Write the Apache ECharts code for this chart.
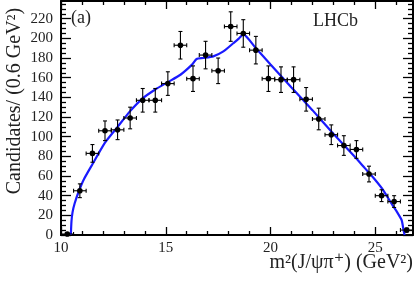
<!DOCTYPE html>
<html><head><meta charset="utf-8">
<script src="https://cdn.jsdelivr.net/npm/echarts@6/dist/echarts.min.js"></script>
<style>html,body{margin:0;padding:0;background:#fff}#c{width:415px;height:283px}</style>
</head><body><div id="c"></div>
<script>
// Data points (bin centres, GeV^2) – bin width 0.6
const binCenters = [10.3,10.9,11.5,12.1,12.7,13.3,13.9,14.5,15.1,15.7,16.3,16.9,17.5,18.1,18.7,19.3,19.9,20.5,21.1,21.7,22.3,22.9,23.5,24.1,24.7,25.3,25.9,26.5];
const counts = [1,45,83,106,107,119,137,137,154,193,159,183,167,212,205,188,159,158,158,138,118,102,91,87,62,40,34,5];
const errors = [1,7,9,10,10,11,12,12,12,14,13,14,13,15,14,14,13,13,13,12,11,10,10,9,8,6,6,2];
const halfBin = 0.3;
// Fit curve
const fitX = [10.47,10.5,10.55,10.65,10.86,11.1,11.5,12.1,12.7,13.3,13.9,14.5,15.1,15.7,16.24,16.47,16.79,17.27,17.75,18.22,18.5,18.7,19.3,20,21,22,23,24,24.5,25,25.4,25.8,26.02,26.26,26.34,26.4];
const fitY = [0,14,23,32,45,57,72,94,110,126,139,148,155.5,163,173,179,180,181.7,186.7,195,200,204,190,173.5,150,127,103,80,68,56,45,31,24,15,6,0];
// Axis ticks
const xMajor = [10,15,20,25];
const xMinor = [11,12,13,14,16,17,18,19,21,22,23,24,26];
const yMajor = [0,20,40,60,80,100,120,140,160,180,200,220];
const yMinor = [5,10,15,25,30,35,45,50,55,65,70,75,85,90,95,105,110,115,125,130,135,145,150,155,165,170,175,185,190,195,205,210,215,225,230,235];

const FONT = '"Liberation Serif","DejaVu Serif",serif';
const chart = echarts.init(document.getElementById('c'), null, {renderer:'canvas'});

function xAx(pos, vals, len, showLine, showLabel){
  return {type:'value', position:pos, min:10, max:26.8, gridIndex:0,
    axisLine:{show:showLine, onZero:false, lineStyle:{color:'#000', width:2}},
    axisTick:{show:true, inside:true, length:len, customValues:vals, lineStyle:{color:'#000', width:1.3}},
    axisLabel:{show:showLabel, customValues:vals, margin:6, color:'#222', fontFamily:FONT, fontSize:15},
    splitLine:{show:false}};
}
function yAx(pos, vals, len, showLine, showLabel){
  return {type:'value', position:pos, min:0, max:238, gridIndex:0,
    axisLine:{show:showLine, onZero:false, lineStyle:{color:'#000', width:2}},
    axisTick:{show:true, inside:true, length:len, customValues:vals, lineStyle:{color:'#000', width:1.3}},
    axisLabel:{show:showLabel, customValues:vals, margin:8, color:'#222', fontFamily:FONT, fontSize:15},
    splitLine:{show:false}};
}

const pts = binCenters.map((x,i)=>[x,counts[i],errors[i]]);
const fit = fitX.map((x,i)=>[x,fitY[i]]);

chart.setOption({
  animation:false,
  grid:{left:61, right:2, top:1, bottom:48},
  xAxis:[xAx('bottom',xMajor,8,true,true), xAx('bottom',xMinor,4,false,false),
         xAx('top',xMajor,8,true,false), xAx('top',xMinor,4,false,false)],
  yAxis:[yAx('left',yMajor,10,true,true), yAx('left',yMinor,5,false,false),
         yAx('right',yMajor,10,true,false), yAx('right',yMinor,5,false,false)],
  graphic:[
    {type:'text', x:15, y:101, rotation:Math.PI/2, style:{text:'Candidates/ (0.6 GeV²)', font:'20px '+FONT, fill:'#222', textAlign:'center', textVerticalAlign:'middle'}},
    {type:'text', right:2, top:253, style:{text:'m²(J/ψπ⁺) (GeV²)', font:'20px '+FONT, fill:'#222'}},
    {type:'text', left:71, top:9, style:{text:'(a)', font:'18px '+FONT, fill:'#222'}},
    {type:'text', left:313, top:12, style:{text:'LHCb', font:'18px '+FONT, fill:'#222'}}
  ],
  series:[
    {type:'line', data:fit, xAxisIndex:0, yAxisIndex:0, showSymbol:false, smooth:0.2,
     lineStyle:{color:'#1a1aff', width:2.2}, z:3},
    {type:'custom', xAxisIndex:0, yAxisIndex:0, data:pts, z:4,
     renderItem:function(params, api){
       const x=api.value(0), y=api.value(1), e=api.value(2);
       const c=api.coord([x,y]), lo=api.coord([x,Math.max(0,y-e)]), hi=api.coord([x,y+e]);
       const l=api.coord([x-halfBin,y]), r=api.coord([x+halfBin,y]);
       const st={stroke:'#000', lineWidth:1.1};
       return {type:'group', children:[
         {type:'line', shape:{x1:c[0],y1:lo[1],x2:c[0],y2:hi[1]}, style:st},
         {type:'line', shape:{x1:c[0]-2,y1:lo[1],x2:c[0]+2,y2:lo[1]}, style:st},
         {type:'line', shape:{x1:c[0]-2,y1:hi[1],x2:c[0]+2,y2:hi[1]}, style:st},
         {type:'line', shape:{x1:l[0],y1:c[1],x2:r[0],y2:c[1]}, style:st},
         {type:'line', shape:{x1:l[0],y1:c[1]-2,x2:l[0],y2:c[1]+2}, style:st},
         {type:'line', shape:{x1:r[0],y1:c[1]-2,x2:r[0],y2:c[1]+2}, style:st},
         {type:'circle', shape:{cx:c[0],cy:c[1],r:2.8}, style:{fill:'#000'}}
       ]};
     }}
  ]
});
</script></body></html>
